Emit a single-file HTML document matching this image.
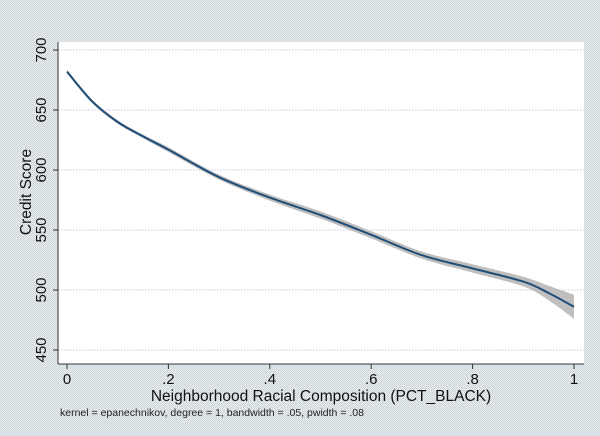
<!DOCTYPE html>
<html><head><meta charset="utf-8"><style>
html,body{margin:0;padding:0;background:#e3e9ec;}
svg{display:block;font-family:"Liberation Sans",Arial,sans-serif;}
</style></head><body>
<svg width="600" height="436" viewBox="0 0 600 436">
<defs><pattern id="dots" width="2" height="2" patternUnits="userSpaceOnUse"><rect width="2" height="2" fill="#e8eef0"/><rect width="1" height="1" fill="#cdd4da"/><rect x="1" y="1" width="1" height="1" fill="#cdd4da"/></pattern></defs>
<rect width="600" height="436" fill="url(#dots)"/>
<rect x="58" y="42" width="526" height="322" fill="#fff"/>
<g id="grid"></g>
<g id="axes"></g>
<path id="band" fill="#b8b8b8" opacity="0.9"/>
<path id="line" fill="none" stroke="#1f4e79" stroke-width="2"/>
<text x="31" y="192" font-size="15.5" text-anchor="middle" transform="rotate(-90 31 192)" fill="#111">Credit Score</text>
<text x="321" y="401" font-size="15.5" text-anchor="middle" fill="#111">Neighborhood Racial Composition (PCT_BLACK)</text>
<text x="60" y="416" font-size="10.5" fill="#222">kernel = epanechnikov, degree = 1, bandwidth = .05, pwidth = .08</text>
</svg>
<script>
const xs=[0,0.05,0.1,0.15,0.2,0.3,0.4,0.5,0.6,0.7,0.8,0.9,0.95,1];
const ys=[682,657,640,628,617,594,577,562.5,546,529,518,507,497.5,486];
const halfw=[1.5,1.5,1.5,1.5,2,2,2.5,3,3,3,3.5,4,6,10];
const yTicks=[450,500,550,600,650,700];
const xTicks=[0,0.2,0.4,0.6,0.8,1];
const xTickLabels=["0",".2",".4",".6",".8","1"];
const X=v=>67+v*507, Y=v=>50+(700-v)*1.2;
const ns="http://www.w3.org/2000/svg";
const grid=document.getElementById('grid'), axes=document.getElementById('axes');
function mk(tag,attrs,parent){const e=document.createElementNS(ns,tag);for(const k in attrs)e.setAttribute(k,attrs[k]);parent.appendChild(e);return e;}
yTicks.forEach(t=>{
 const g=mk('line',{x1:58,x2:584,y1:Y(t),y2:Y(t),stroke:'#c8c8e0','stroke-dasharray':'1.5,1.5'},grid);
 
 
 const tk=mk('line',{x1:53,x2:58,y1:Y(t),y2:Y(t),stroke:'#333'},axes);
 
 
 const tx=mk('text',{x:46,y:Y(t),'font-size':15,'text-anchor':'middle',fill:'#111',transform:`rotate(-90 46 ${Y(t)})`},axes);
 tx.textContent=t;
 
 
});
const ya=mk('line',{x1:58,x2:58,y1:42,y2:364,stroke:'#333'},axes);


const xa=mk('line',{x1:58,x2:584,y1:364,y2:364,stroke:'#333'},axes);


xTicks.forEach((t,i)=>{
 const tk=mk('line',{x1:X(t),x2:X(t),y1:364,y2:369,stroke:'#333'},axes);
 
 
 const tx=mk('text',{x:X(t),y:384,'font-size':15,'text-anchor':'middle',fill:'#111'},axes);
 tx.textContent=xTickLabels[i];
 
 
});
function path(pts){let d=`M${pts[0][0]},${pts[0][1]}`;for(let i=0;i<pts.length-1;i++){const p0=pts[i-1]||pts[i],p1=pts[i],p2=pts[i+1],p3=pts[i+2]||p2;
d+=` C${p1[0]+(p2[0]-p0[0])/6},${p1[1]+(p2[1]-p0[1])/6} ${p2[0]-(p3[0]-p1[0])/6},${p2[1]-(p3[1]-p1[1])/6} ${p2[0]},${p2[1]}`;}return d;}
const mid=xs.map((x,i)=>[X(x),Y(ys[i])]);
const up=xs.map((x,i)=>[X(x),Y(ys[i]+halfw[i])]);
const lo=xs.map((x,i)=>[X(x),Y(ys[i]-halfw[i])]).reverse();
document.getElementById('line').setAttribute('d',path(mid));
document.getElementById('band').setAttribute('d',path(up)+' L'+path(lo).slice(1)+' Z');
</script>
</body></html>
